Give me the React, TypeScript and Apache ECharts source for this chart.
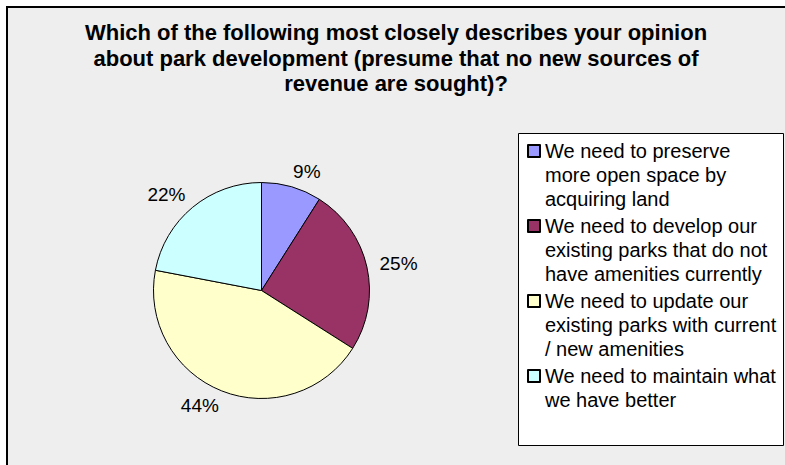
import React, { useEffect, useRef } from "react";
import * as echarts from "echarts";

const titleLines = [
  "Which of the following most closely describes your opinion",
  "about park development (presume that no new sources of",
  "revenue are sought)?",
];

const categories = [
  "We need to preserve\nmore open space by\nacquiring land",
  "We need to develop our\nexisting parks that do not\nhave amenities currently",
  "We need to update our\nexisting parks with current\n/ new amenities",
  "We need to maintain what\nwe have better",
];

const values = [9, 25, 44, 22];

const colors = ["#9999FF", "#993366", "#FFFFCC", "#CCFFFF"];

export default function App() {
  const ref = useRef<HTMLDivElement>(null);

  useEffect(() => {
    if (!ref.current) return;
    const chart = echarts.init(ref.current, null, { renderer: "svg" });
    const lineH = 24;
    const maxLines = 3;
    chart.setOption({
      animation: false,
      backgroundColor: "#ffffff",
      color: colors,
      title: {
        text: titleLines.join("\n"),
        left: 396,
        textAlign: "center",
        top: 20,
        padding: 0,
        textStyle: {
          fontFamily: "Liberation Sans",
          fontWeight: "bold",
          fontSize: 22,
          lineHeight: 25.5,
          color: "#000",
        },
      },
      graphic: [
        {
          type: "rect",
          z: 0,
          shape: { x: 7, y: 7, width: 800, height: 480 },
          style: { fill: "#EEEEEE", stroke: "#000", lineWidth: 2 },
        },
        {
          type: "rect",
          z: 1,
          shape: { x: 518.5, y: 133.5, width: 265, height: 312 },
          style: { fill: "#FFFFFF", stroke: "#000", lineWidth: 1 },
        },
      ],
      legend: {
        orient: "vertical",
        left: 527,
        top: 91,
        padding: 0,
        itemGap: -45,
        itemWidth: 12,
        itemHeight: 12,
        icon: "rect",
        textStyle: {
          fontFamily: "Liberation Sans",
          fontSize: 20,
          lineHeight: lineH,
          color: "#000",
        },
        formatter: (name: string) => {
          const n = name.split("\n").length;
          return "\n".repeat(maxLines - 1) + name + "\n".repeat(maxLines - n);
        },
        data: categories,
      },
      series: [
        {
          type: "pie",
          center: [261.5, 290.5],
          radius: 108,
          startAngle: 90,
          clockwise: true,
          avoidLabelOverlap: false,
          itemStyle: { borderColor: "#000", borderWidth: 1 },
          label: {
            show: true,
            position: "outside",
            formatter: "{d}%",
            fontFamily: "Liberation Sans",
            fontSize: 19,
            color: "#000",
            distanceToLabelLine: -3,
          },
          labelLine: { show: false, length: 16, length2: 0 },
          emphasis: { disabled: true },
          data: categories.map((name, i) => ({ name, value: values[i] })),
        },
      ],
    });
    return () => chart.dispose();
  }, []);

  return (
    <div
      ref={ref}
      style={{ position: "absolute", left: 0, top: 0, width: 785, height: 465 }}
    />
  );
}
